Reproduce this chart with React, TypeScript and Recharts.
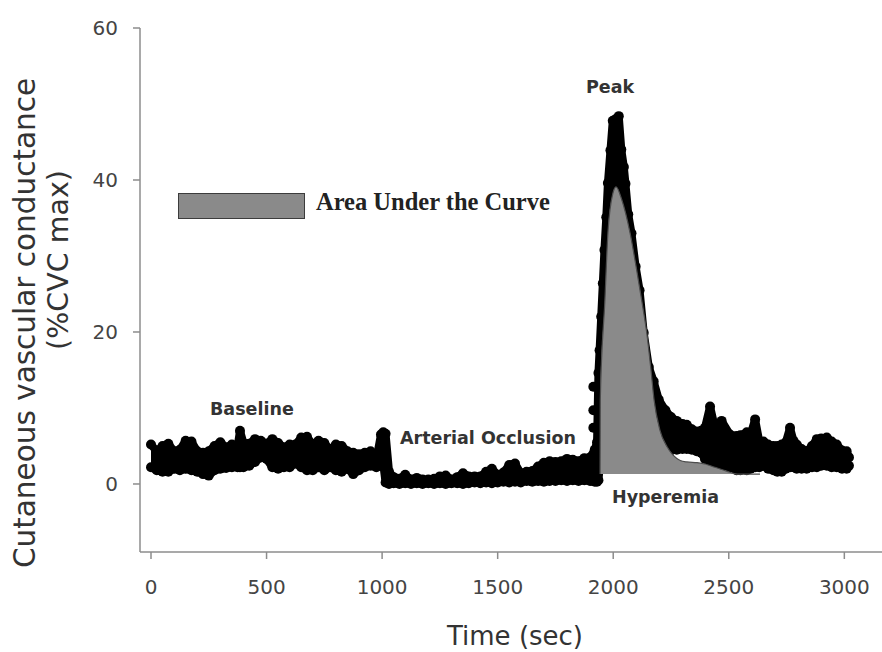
import { Area, ComposedChart, Legend, Line, XAxis, YAxis } from 'recharts';

const bandTimes = [
  0, 25, 50, 75, 100, 125, 150, 175, 200, 225, 250, 275, 300, 325, 350, 375, 385, 400, 425, 450,
  475, 500, 525, 550, 575, 600, 625, 650, 675, 700, 725, 750, 775, 800, 825, 850, 875, 900, 925,
  950, 975, 995, 1005, 1015, 1030, 1050, 1075, 1100, 1125, 1150, 1175, 1200, 1225, 1250, 1275,
  1300, 1325, 1350, 1375, 1400, 1425, 1450, 1475, 1500, 1525, 1550, 1575, 1600, 1625, 1650, 1675,
  1700, 1725, 1750, 1775, 1800, 1825, 1850, 1875, 1900, 1920, 1930, 1936, 1941, 1948, 1955, 1962,
  1970, 1977, 1988, 1998, 2010, 2024, 2035, 2046, 2053, 2065, 2079, 2097, 2114, 2132, 2154, 2175,
  2197, 2226, 2250, 2275, 2300, 2318, 2340, 2361, 2380, 2397, 2419, 2440, 2469, 2505, 2534, 2550,
  2578, 2595, 2614, 2632, 2650, 2670, 2693, 2710, 2729, 2747, 2765, 2780, 2794, 2815, 2837, 2860,
  2881, 2900, 2924, 2945, 2967, 2990, 3010, 3020,
];
const bandUpper = [
  5.2, 4.3, 5.0, 5.3, 4.3, 4.5, 5.7, 5.6, 4.3, 4.1, 4.3, 5.0, 5.5, 4.8, 5.2, 5.0, 7.0, 5.4, 5.3, 5.9,
  5.7, 5.3, 5.9, 5.4, 4.8, 5.2, 5.2, 6.1, 6.2, 5.2, 5.7, 5.4, 4.5, 5.2, 5.0, 4.3, 4.1, 3.9, 4.1,
  4.3, 3.2, 6.5, 6.8, 6.6, 1.6, 0.9, 0.7, 1.2, 0.6, 0.8, 0.6, 0.6, 0.7, 1.0, 1.1,
  0.6, 0.9, 1.4, 1.0, 1.0, 1.0, 1.6, 2.0, 1.2, 1.5, 2.5, 2.7, 1.4, 1.6, 1.7, 2.3,
  2.8, 3.0, 2.9, 3.0, 3.3, 3.2, 3.0, 3.4, 3.5, 4.5, 5.5, 14.6, 17.6, 22.0, 26.4, 30.8,
  35.1, 39.6, 43.9, 47.8, 48.0, 48.4, 44.0, 41.7, 39.5, 35.5, 33.0, 28.6, 25.5, 19.9, 15.4, 13.5,
  11.1, 9.7, 8.8, 8.3, 7.9, 7.8, 7.2, 6.9, 7.0, 7.4, 10.2, 7.4, 8.3, 6.5, 6.3, 6.4,
  6.8, 6.6, 8.5, 5.6, 5.6, 5.2, 5.0, 5.0, 5.2, 5.5, 7.4, 5.7, 5.2, 4.6, 4.3, 5.0,
  5.9, 6.0, 6.1, 5.6, 5.2, 4.4, 4.3, 3.5,
];
const bandLower = [
  2.2, 1.8, 1.6, 1.6, 2.0, 1.8, 2.0, 1.8, 1.6, 1.3, 1.1, 1.8, 2.0, 2.1, 2.2, 2.2, 2.2, 2.2, 2.4, 2.9,
  3.5, 3.3, 2.2, 2.0, 2.2, 2.2, 2.7, 2.2, 1.8, 1.8, 2.2, 1.8, 2.2, 1.8, 1.6, 2.0, 1.3, 1.8, 2.2,
  2.4, 2.2, 2.4, 2.6, 0.2, 0.0, 0.1, 0.0, 0.1, 0.0, 0.1, 0.0, 0.1, 0.0, 0.1, 0.0,
  0.1, 0.1, 0.0, 0.1, 0.2, 0.1, 0.2, 0.1, 0.2, 0.3, 0.2, 0.3, 0.2, 0.4, 0.3, 0.4,
  0.3, 0.4, 0.4, 0.5, 0.4, 0.5, 0.4, 0.5, 0.4, 0.3, 0.3, 0.5, 2.0, 2.0, 2.0, 2.0,
  2.0, 2.0, 2.0, 2.0, 2.0, 2.0, 2.0, 2.0, 2.0, 2.0, 2.0, 2.0, 2.0, 2.0, 2.0, 2.0,
  2.0, 2.0, 4.6, 4.5, 4.6, 4.6, 4.5, 4.3, 4.1, 3.3, 3.0, 2.7, 2.4, 2.2, 1.8, 1.8,
  1.8, 2.0, 2.2, 2.2, 2.4, 2.0, 1.8, 1.6, 1.6, 2.0, 2.2, 2.2, 2.0, 2.0, 2.0, 2.2,
  2.2, 2.4, 2.4, 2.2, 2.2, 2.0, 2.0, 2.4,
];

// the few single readings on the steep rise just after cuff release
const riseTimes = [1914, 1914, 1914];
const riseValues = [7.4, 9.7, 12.8];

// fitted curve over the hyperemic response, shaded down to its baseline
const aucTimes = [
  1943, 1944, 1964, 1977, 1999, 2012, 2037, 2073, 2099, 2123, 2145, 2162, 2177, 2202, 2233, 2259,
  2290, 2319, 2363, 2400, 2440, 2490, 2536, 2635,
];
const aucValues = [
  1.3, 11.0, 24.2, 33.0, 38.3, 39.1, 37.4, 33.0, 28.6, 24.2, 19.9, 15.4, 11.0, 7.1, 4.9, 3.8,
  3.1, 2.9, 2.8, 2.6, 2.2, 1.7, 1.3, 1.3,
];
const aucBase = 1.3;

const xTicks = [0, 500, 1000, 1500, 2000, 2500, 3000];
const yTicks = [0, 20, 40, 60];

const bandRows = bandTimes.map((t, i) => ({ t, range: [bandLower[i], bandUpper[i]] }));
const upperRows = bandTimes.map((t, i) => ({ t, v: bandUpper[i] }));
const lowerRows = bandTimes.map((t, i) => ({ t, v: bandLower[i] }));
const riseRows = riseTimes.map((t, i) => ({ t, v: riseValues[i] }));
const aucRows = aucTimes.map((t, i) => ({ t, auc: aucValues[i] }));

const SANS = "'DejaVu Sans', sans-serif";
const axisGrey = '#8c8c8c';
const dot = { r: 5, fill: '#000', stroke: 'none', strokeWidth: 0 };

function ChartTexts() {
  const note = { fontFamily: SANS, fontSize: 17.5, fontWeight: 700, fill: '#333' };
  const title = { fontFamily: SANS, fill: '#333' };
  return (
    <g>
      <text x={210} y={415} {...note}>Baseline</text>
      <text x={400} y={444} {...note}>Arterial Occlusion</text>
      <text x={586} y={93} {...note}>Peak</text>
      <text x={612} y={503} {...note}>Hyperemia</text>
      <text x={515} y={645} textAnchor="middle" fontSize={26} {...title}>Time (sec)</text>
      <text x={35} y={323} textAnchor="middle" fontSize={29.5} transform="rotate(-90 35 323)" {...title}>
        Cutaneous vascular conductance
      </text>
      <text x={68} y={260} textAnchor="middle" fontSize={28.5} transform="rotate(-90 68 260)" {...title}>
        (%CVC max)
      </text>
    </g>
  );
}

function AucLegend() {
  return (
    <div style={{ display: 'flex', alignItems: 'flex-start' }}>
      <div
        style={{
          width: 127,
          height: 26,
          boxSizing: 'border-box',
          background: '#8a8a8a',
          border: '1.5px solid #3c3c3c',
        }}
      />
      <span
        style={{
          marginLeft: 11,
          position: 'relative',
          top: -4,
          lineHeight: '26px',
          fontFamily: "'Liberation Serif', 'Times New Roman', serif",
          fontWeight: 700,
          fontSize: 24.5,
          color: '#222',
          whiteSpace: 'nowrap',
        }}
      >
        Area Under the Curve
      </span>
    </div>
  );
}

export default function App() {
  return (
    <div style={{ position: 'fixed', left: 0, top: 0, width: 882, height: 652, background: '#fff', overflow: 'hidden' }}>
      <ComposedChart width={882} height={652} margin={{ top: 28, right: 0, bottom: 0, left: 0 }}>
        <XAxis
          dataKey="t"
          type="number"
          domain={[-47.6, 3163]}
          ticks={xTicks}
          allowDataOverflow
          height={100}
          tickSize={7}
          tickMargin={21}
          axisLine={{ stroke: axisGrey, strokeWidth: 1.5 }}
          tickLine={{ stroke: axisGrey, strokeWidth: 1.5 }}
          tick={{ fontFamily: SANS, fontSize: 20, fill: '#444' }}
        />
        <YAxis
          type="number"
          domain={[-8.95, 60]}
          ticks={yTicks}
          allowDataOverflow
          width={140}
          tickSize={7}
          tickMargin={15}
          axisLine={{ stroke: axisGrey, strokeWidth: 1.5 }}
          tickLine={{ stroke: axisGrey, strokeWidth: 1.5 }}
          tick={{ fontFamily: SANS, fontSize: 20, fill: '#444' }}
        />
        <Area
          data={bandRows}
          dataKey="range"
          type="linear"
          fill="#000"
          fillOpacity={1}
          stroke="#000"
          strokeWidth={8}
          strokeLinejoin="round"
          strokeLinecap="round"
          isAnimationActive={false}
        />
        <Line data={upperRows} dataKey="v" stroke="none" dot={dot} activeDot={false} isAnimationActive={false} />
        <Line data={lowerRows} dataKey="v" stroke="none" dot={dot} activeDot={false} isAnimationActive={false} />
        <Line data={riseRows} dataKey="v" stroke="none" dot={dot} activeDot={false} isAnimationActive={false} />
        <Area
          data={aucRows}
          dataKey="auc"
          type="monotone"
          baseValue={aucBase}
          fill="#8a8a8a"
          fillOpacity={1}
          stroke="#4d4d4d"
          strokeWidth={1.2}
          zIndex={1500}
          isAnimationActive={false}
        />
        <Legend
          layout="horizontal"
          verticalAlign="middle"
          align="center"
          wrapperStyle={{ left: 178, top: 193, width: 420 }}
          content={() => <AucLegend />}
        />
        <ChartTexts />
      </ComposedChart>
    </div>
  );
}
